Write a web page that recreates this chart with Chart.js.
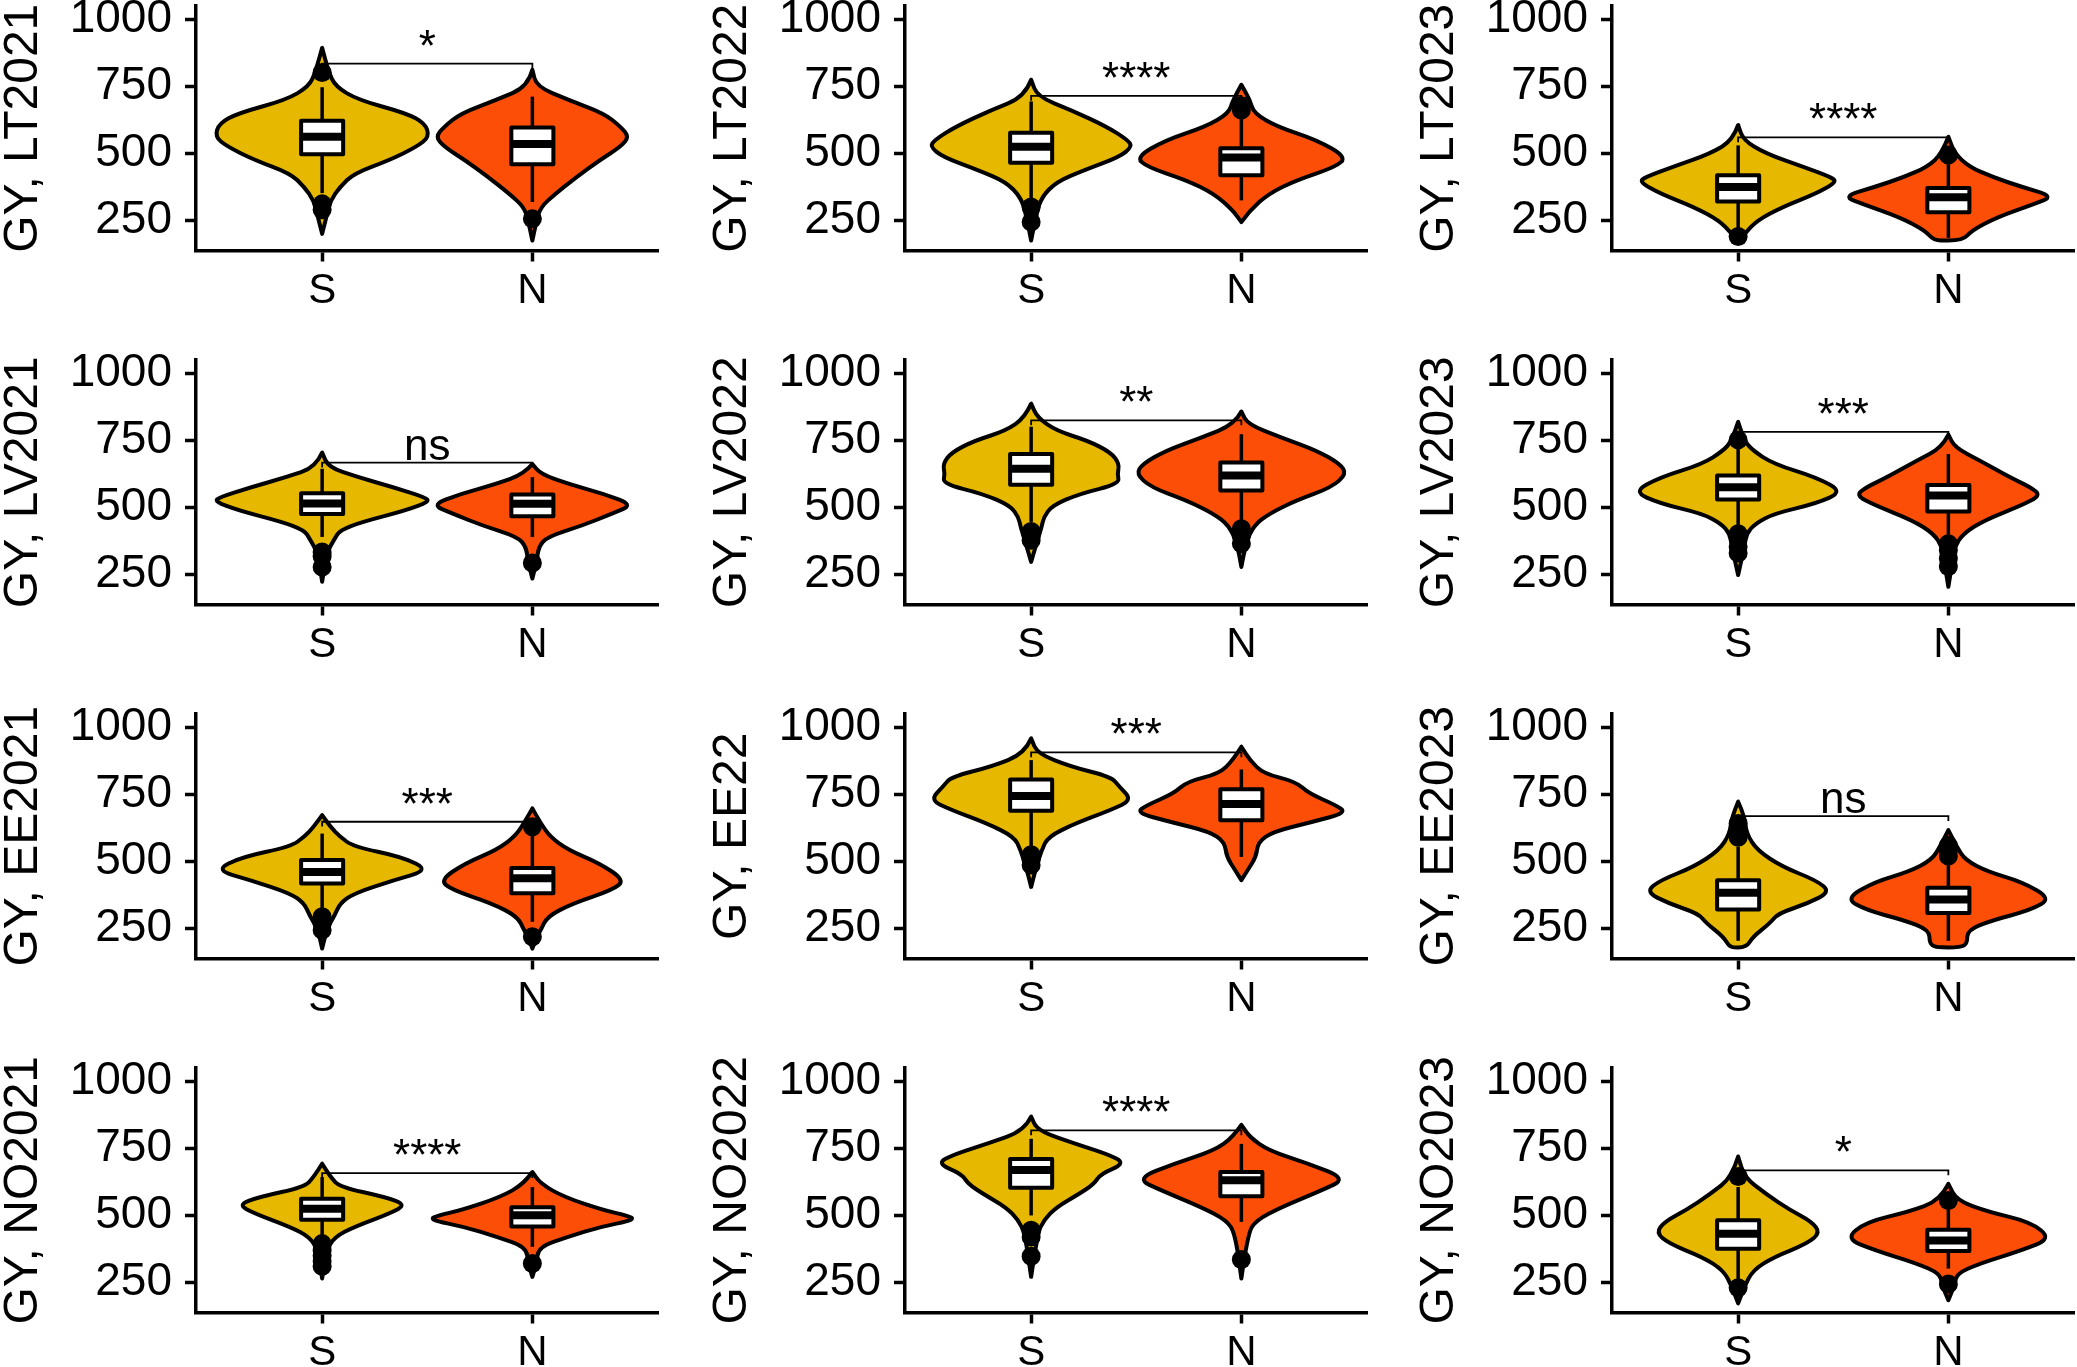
<!DOCTYPE html>
<html>
<head>
<meta charset="utf-8">
<script src="https://cdn.jsdelivr.net/npm/chart.js@4.4.1/dist/chart.umd.min.js"></script>
<style>
html, body { margin: 0; padding: 0; background: #fff; overflow: hidden; }
#wrap { position: relative; width: 2077px; height: 1367px; overflow: hidden; }
#wrap canvas { position: absolute; }
</style>
</head>
<body>
<div id="wrap"></div>
<script>
const panels = ['LT2021', 'LT2022', 'LT2023', 'LV2021', 'LV2022', 'LV2023',
                'EE2021', 'EE22', 'EE2023', 'NO2021', 'NO2022', 'NO2023'];
const groups = ['S', 'N'];
const groupColors = ['#E7B800', '#FC4E07'];
const yTicks = [250, 500, 750, 1000];

// significance bracket height and label for each panel
const bracketY = [835, 715, 560, 667, 825, 782, 648, 907, 669, 658, 817, 668];
const sigLabels = ['*', '****', '****', 'ns', '**', '***', '***', '***', 'ns', '****', '****', '*'];

// box stats: [lower whisker, Q1, median, Q3, upper whisker]
const boxS = [
  [352, 497, 562, 622, 747], [331, 465, 525, 577, 694], [212, 321, 375, 419, 530],
  [390, 476, 515, 553, 644], [446, 585, 644, 699, 801], [427, 530, 575, 619, 736],
  [312, 418, 461, 505, 604], [555, 689, 744, 806, 878], [204, 321, 383, 430, 555],
  [407, 484, 525, 562, 643], [500, 603, 670, 711, 786], [259, 376, 432, 482, 606]
];
const boxN = [
  [319, 460, 535, 597, 712], [325, 419, 485, 519, 650], [185, 281, 337, 371, 487],
  [390, 467, 514, 548, 613], [408, 563, 619, 668, 773], [390, 485, 545, 584, 699],
  [275, 381, 437, 476, 611], [517, 654, 714, 769, 843], [204, 308, 358, 402, 517],
  [383, 459, 501, 531, 606], [476, 572, 631, 662, 767], [302, 367, 407, 447, 531]
];

// outlier points
const outS = [
  [802, 312, 290], [300, 244], [190],
  [334, 318, 278], [410, 395, 378], [752, 402, 353, 330],
  [294, 270, 244], [525, 505, 487], [642, 615, 590],
  [395, 370, 350, 330, 310], [445, 420, 348], [645, 230]
];
const outN = [
  [256], [662, 678], [494],
  [293], [421, 395, 365], [365, 340, 310, 280],
  [629, 219], [], [560, 540, 520],
  [321], [336], [556, 244]
];

// violin outlines: [GY value, half width in category units], bottom to top
const violinS = [
  [[200,0],[262,0.02],[325,0.04],[375,0.085],[425,0.15],[475,0.32],[525,0.45],[562,0.51],[612,0.49],[650,0.40],[700,0.17],[750,0.063],[806,0.03],[894,0]],
  [[175,0],[275,0.025],[337,0.05],[394,0.12],[437,0.25],[487,0.42],[525,0.48],[550,0.46],[600,0.36],[662,0.19],[712,0.03],[775,0]],
  [[169,0],[200,0.03],[250,0.09],[300,0.21],[350,0.37],[394,0.47],[412,0.44],[450,0.31],[500,0.13],[550,0.025],[606,0]],
  [[223,0],[328,0.02],[384,0.06],[415,0.085],[446,0.19],[489,0.40],[522,0.51],[538,0.49],[575,0.34],[613,0.17],[650,0.03],[705,0]],
  [[297,0],[377,0.03],[427,0.05],[464,0.06],[507,0.10],[551,0.23],[588,0.42],[625,0.41],[662,0.42],[705,0.38],[749,0.27],[786,0.12],[835,0.03],[887,0]],
  [[248,0],[353,0.03],[402,0.04],[439,0.08],[477,0.17],[514,0.37],[559,0.50],[613,0.37],[662,0.17],[712,0.07],[749,0.03],[819,0]],
  [[175,0],[244,0.02],[300,0.06],[343,0.085],[381,0.15],[430,0.34],[468,0.51],[517,0.38],[555,0.15],[592,0.085],[629,0.04],[673,0]],
  [[405,0],[468,0.02],[542,0.05],[592,0.08],[642,0.21],[692,0.38],[729,0.48],[779,0.42],[816,0.38],[853,0.19],[903,0.03],[959,0]],
  [[179,0],[180,0.04],[219,0.07],[269,0.15],[306,0.19],[343,0.33],[387,0.44],[430,0.37],[480,0.21],[542,0.09],[604,0.04],[667,0.03],[723,0]],
  [[265,0],[370,0.02],[420,0.06],[457,0.15],[507,0.32],[540,0.40],[569,0.30],[606,0.085],[643,0.04],[693,0]],
  [[271,0],[432,0.03],[482,0.06],[531,0.12],[581,0.23],[618,0.30],[655,0.33],[695,0.45],[730,0.36],[767,0.21],[817,0.03],[869,0]],
  [[172,0],[234,0.03],[296,0.07],[345,0.17],[395,0.33],[436,0.39],[476,0.35],[519,0.25],[581,0.13],[643,0.03],[720,0]]
];
const violinN = [
  [[175,0],[250,0.02],[300,0.04],[350,0.11],[412,0.21],[475,0.32],[525,0.42],[562,0.46],[600,0.42],[650,0.34],[700,0.17],[750,0.02],[812,0]],
  [[244,0],[287,0.04],[350,0.13],[400,0.26],[450,0.45],[487,0.50],[550,0.36],[600,0.17],[650,0.06],[700,0.04],[756,0]],
  [[175,0],[176,0.07],[212,0.11],[262,0.23],[312,0.41],[340,0.50],[375,0.35],[412,0.21],[450,0.10],[500,0.03],[562,0]],
  [[235,0],[297,0.02],[353,0.03],[390,0.07],[433,0.24],[477,0.38],[510,0.48],[551,0.34],[588,0.17],[625,0.04],[662,0]],
  [[278,0],[365,0.02],[433,0.06],[476,0.13],[526,0.26],[575,0.43],[625,0.50],[662,0.47],[712,0.36],[761,0.19],[811,0.03],[858,0]],
  [[204,0],[300,0.02],[353,0.03],[402,0.07],[452,0.17],[508,0.35],[545,0.44],[576,0.39],[613,0.29],[675,0.15],[724,0.03],[772,0]],
  [[175,0],[219,0.02],[244,0.04],[294,0.07],[343,0.19],[393,0.38],[430,0.44],[493,0.32],[543,0.17],[592,0.085],[642,0.04],[698,0]],
  [[430,0],[468,0.03],[517,0.07],[573,0.08],[611,0.15],[648,0.34],[682,0.50],[710,0.45],[754,0.32],[797,0.26],[828,0.105],[878,0.04],[928,0]],
  [[179,0],[180,0.06],[194,0.09],[244,0.09],[281,0.21],[318,0.39],[362,0.49],[424,0.35],[461,0.19],[505,0.08],[555,0.04],[617,0]],
  [[271,0],[321,0.02],[383,0.03],[420,0.17],[457,0.32],[484,0.49],[500,0.45],[519,0.34],[569,0.15],[618,0.04],[662,0]],
  [[265,0],[432,0.03],[482,0.07],[531,0.19],[593,0.38],[637,0.50],[693,0.32],[742,0.13],[792,0.04],[838,0]],
  [[184,0],[240,0.03],[283,0.04],[321,0.15],[370,0.35],[414,0.49],[476,0.39],[513,0.19],[556,0.04],[618,0]]
];

// page layout
const plotLefts = [196, 905, 1612];
const plotTops = [6, 360, 714, 1068];
const yAxisWidth = 196, plotW = 466, plotH = 244.5;
const padTop = 45, padRight = 6, xAxisHeight = 102.5;
const boxWidth = 0.2, tipLen = 18;

Chart.defaults.font.family = "'Liberation Sans', Arial, Helvetica, sans-serif";
Chart.defaults.color = '#000';

// curve through the points, starting from the current point pts[0]
function traceSmooth(ctx, pts) {
    for (let k = 1; k < pts.length - 1; k++) {
        const mx = (pts[k][0] + pts[k + 1][0]) / 2;
        const my = (pts[k][1] + pts[k + 1][1]) / 2;
        ctx.quadraticCurveTo(pts[k][0], pts[k][1], mx, my);
    }
    const last = pts[pts.length - 1];
    ctx.lineTo(last[0], last[1]);
}

const violinPlugin = {
    id: 'violinBox',
    beforeDatasetsDraw(chart, args, opts) {
        const i = opts.panel;
        const xs = chart.scales.x, ys = chart.scales.y;
        const ctx = chart.ctx;
        const profiles = [violinS[i], violinN[i]];
        const boxes = [boxS[i], boxN[i]];
        ctx.save();
        ctx.lineJoin = 'round';
        ctx.strokeStyle = '#000';
        for (let g = 0; g < 2; g++) {
            const cx = g + 1;
            const prof = profiles[g];
            const right = prof.map(p => [xs.getPixelForValue(cx + p[1]), ys.getPixelForValue(p[0])]);
            const left = prof.slice().reverse().map(p => [xs.getPixelForValue(cx - p[1]), ys.getPixelForValue(p[0])]);
            ctx.beginPath();
            ctx.moveTo(right[0][0], right[0][1]);
            traceSmooth(ctx, right);
            traceSmooth(ctx, left);
            ctx.closePath();
            ctx.fillStyle = groupColors[g];
            ctx.fill();
            ctx.lineWidth = 4;
            ctx.stroke();

            // boxplot
            const b = boxes[g];
            const px = xs.getPixelForValue(cx);
            const half = xs.getPixelForValue(cx + boxWidth / 2) - px;
            ctx.beginPath();
            ctx.moveTo(px, ys.getPixelForValue(b[0]));
            ctx.lineTo(px, ys.getPixelForValue(b[4]));
            ctx.lineWidth = 3.5;
            ctx.stroke();
            const top = ys.getPixelForValue(b[3]);
            const bot = ys.getPixelForValue(b[1]);
            ctx.fillStyle = '#fff';
            ctx.fillRect(px - half, top, 2 * half, bot - top);
            ctx.lineWidth = 4;
            ctx.strokeRect(px - half, top, 2 * half, bot - top);
            const ym = ys.getPixelForValue(b[2]);
            ctx.beginPath();
            ctx.moveTo(px - half, ym);
            ctx.lineTo(px + half, ym);
            ctx.lineWidth = 8;
            ctx.stroke();
        }
        ctx.restore();
    },
    afterDatasetsDraw(chart, args, opts) {
        const i = opts.panel;
        const xs = chart.scales.x, ys = chart.scales.y;
        const ctx = chart.ctx;
        const x1 = xs.getPixelForValue(1), x2 = xs.getPixelForValue(2);
        const yb = ys.getPixelForValue(bracketY[i]);
        const yt = ys.getPixelForValue(bracketY[i] - tipLen);
        ctx.save();
        ctx.strokeStyle = '#000';
        ctx.lineWidth = 1.8;
        ctx.beginPath();
        ctx.moveTo(x1, yt);
        ctx.lineTo(x1, yb);
        ctx.lineTo(x2, yb);
        ctx.lineTo(x2, yt);
        ctx.stroke();
        ctx.fillStyle = '#000';
        ctx.font = "44px 'Liberation Sans', Arial, sans-serif";
        ctx.textAlign = 'center';
        ctx.textBaseline = 'alphabetic';
        ctx.fillText(sigLabels[i], xs.getPixelForValue(1.5), yb - 3);
        ctx.restore();
    }
};

const wrap = document.getElementById('wrap');

panels.forEach((name, i) => {
    const col = i % 3, row = Math.floor(i / 3);
    const canvas = document.createElement('canvas');
    canvas.width = yAxisWidth + plotW + padRight;
    canvas.height = Math.round(padTop + plotH + xAxisHeight);
    canvas.style.left = (plotLefts[col] - yAxisWidth) + 'px';
    canvas.style.top = (plotTops[row] - padTop) + 'px';
    wrap.appendChild(canvas);

    const points = outS[i].map(v => ({ x: 1, y: v }))
        .concat(outN[i].map(v => ({ x: 2, y: v })));

    new Chart(canvas.getContext('2d'), {
        type: 'scatter',
        data: {
            datasets: [{
                data: points,
                pointRadius: 9.5,
                pointHoverRadius: 9.5,
                pointBackgroundColor: '#000',
                pointBorderWidth: 0
            }]
        },
        options: {
            responsive: false,
            animation: false,
            events: [],
            layout: { padding: { top: padTop, right: padRight, left: 0, bottom: 0 } },
            plugins: {
                legend: { display: false },
                tooltip: { enabled: false },
                violinBox: { panel: i }
            },
            scales: {
                x: {
                    type: 'linear',
                    min: 0.4,
                    max: 2.6,
                    afterBuildTicks: s => { s.ticks = [{ value: 1 }, { value: 2 }]; },
                    afterFit: s => { s.height = xAxisHeight; },
                    ticks: {
                        callback: (v, idx) => groups[idx],
                        font: { size: 42 },
                        color: '#000',
                        padding: 5,
                        maxRotation: 0,
                        autoSkip: false
                    },
                    grid: {
                        display: true, drawOnChartArea: false, drawTicks: true,
                        tickLength: 11, tickWidth: 3.5, tickColor: '#000'
                    },
                    border: { display: true, color: '#000', width: 3.5 }
                },
                y: {
                    type: 'linear',
                    min: 138,
                    max: 1050,
                    afterBuildTicks: s => { s.ticks = yTicks.map(v => ({ value: v })); },
                    afterFit: s => { s.width = yAxisWidth; },
                    ticks: {
                        callback: v => String(v),
                        font: { size: 46 },
                        color: '#000',
                        padding: 13
                    },
                    grid: {
                        display: true, drawOnChartArea: false, drawTicks: true,
                        tickLength: 11, tickWidth: 3.5, tickColor: '#000'
                    },
                    border: { display: true, color: '#000', width: 3.5 },
                    title: {
                        display: true,
                        text: 'GY, ' + name,
                        color: '#000',
                        font: { size: 48, lineHeight: 1 },
                        padding: { top: 0, bottom: 0 }
                    }
                }
            }
        },
        plugins: [violinPlugin]
    });
});
</script>
</body>
</html>
